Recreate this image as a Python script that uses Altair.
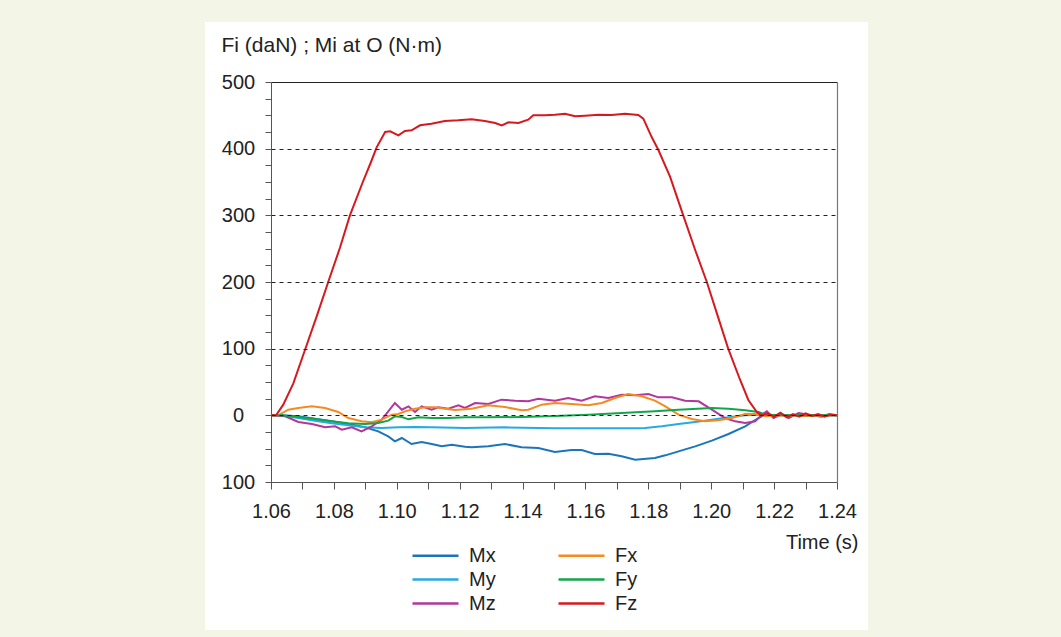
import altair as alt
import pandas as pd

# ---- data ----
fz_t = [1.060, 1.0616, 1.0639, 1.0671, 1.0708, 1.0745, 1.0782, 1.0819, 1.0851, 1.0892, 1.0918, 1.0936,
        1.0963, 1.0979, 1.1005, 1.1026, 1.1047, 1.1074, 1.111, 1.1153, 1.1195, 1.1238, 1.128, 1.1313,
        1.1334, 1.1355, 1.1387, 1.1418, 1.1434, 1.1471, 1.1503, 1.1535, 1.1567, 1.1599, 1.1641, 1.1683,
        1.1726, 1.1768, 1.1784, 1.1811, 1.1832, 1.1869, 1.1911, 1.1949, 1.1986, 1.2018, 1.2054, 1.2092,
        1.2118, 1.2145, 1.216, 1.218, 1.220, 1.222, 1.224, 1.226, 1.228, 1.230, 1.232, 1.234, 1.236,
        1.238, 1.240]
fz_v = [0, 0, 16, 48, 98, 148, 200, 251, 300, 350, 380, 402,
        425, 426, 420, 426.5, 427.5, 435, 437.5, 441.5, 442.5, 444, 441.5, 438.5,
        435, 439.5, 438.5, 443.5, 450, 450, 451, 452.5, 448.5, 449.5, 451, 450.5,
        452.5, 450.5, 445, 417, 398, 358, 300, 248, 200, 153, 100, 53,
        23, 5, 0, 3, -2, 4, -3, 2, -2, 3, -1, 2, -2,
        1, 0]

fx_t = [1.060, 1.0623, 1.0655, 1.0687, 1.073, 1.0772, 1.0814, 1.0846, 1.0888, 1.092, 1.0952, 1.0984,
        1.1005, 1.1026, 1.1058, 1.109, 1.1122, 1.1154, 1.1185, 1.1238, 1.129, 1.1344, 1.1397, 1.1418,
        1.1461, 1.1503, 1.1556, 1.1609, 1.1652, 1.1694, 1.1736, 1.1779, 1.1821, 1.1854, 1.1896, 1.1938,
        1.198, 1.2023, 1.2066, 1.2108, 1.215, 1.2172, 1.222, 1.23, 1.24]
fx_v = [0, 0, 8.5, 11, 13.5, 11, 5, -4, -9, -10.5, -6.5, 1,
        2, 6, 10, 12, 12, 10, 8, 10, 15, 12.5, 7.5, 8.5,
        16, 18.5, 17, 15, 18.5, 26, 32, 28.5, 22, 13.5, 1, -5.5,
        -9, -7.5, -4, 2, 2, -1.5, 0, -1, 0]

fy_t = [1.060, 1.0634, 1.0687, 1.074, 1.0793, 1.0846, 1.0899, 1.0941, 1.0973, 1.0994, 1.1016, 1.1037,
        1.1069, 1.1111, 1.1164, 1.1217, 1.1291, 1.1397, 1.1503, 1.1609, 1.1715, 1.1821, 1.1896, 1.2002,
        1.2055, 1.2108, 1.215, 1.2172, 1.225, 1.24]
fy_v = [0, 0, -2.5, -5.5, -9, -12, -13, -11.5, -8, -1.5, -2.5, -6,
        -3, -4, -4, -3, -3, -2.5, -1, 1, 3.5, 6, 8.5, 11,
        10, 7.5, 5, 1, 0, 0]

my_t = [1.060, 1.0634, 1.0687, 1.074, 1.0793, 1.0846, 1.0899, 1.0952, 1.1005, 1.1058, 1.1111, 1.1217,
        1.1344, 1.1503, 1.1662, 1.1768, 1.179, 1.1843, 1.1896, 1.1949, 1.2002, 1.2055, 1.2108, 1.2161,
        1.225, 1.24]
my_v = [0, 0, -4, -8, -12, -15, -18, -19, -18, -17.5, -18, -19,
        -18, -19.5, -19.5, -19.5, -19, -16.5, -13, -10, -6.5, -3, 0, 1,
        0, 0]

mx_t = [1.060, 1.0634, 1.0687, 1.074, 1.0793, 1.0846, 1.0899, 1.0941, 1.0973, 1.0994, 1.1016, 1.1047,
        1.1079, 1.1111, 1.1143, 1.1175, 1.1217, 1.1238, 1.1291, 1.1344, 1.1397, 1.145, 1.1503, 1.1556,
        1.1588, 1.163, 1.1673, 1.1715, 1.1758, 1.1821, 1.1854, 1.1896, 1.1949, 1.2002, 1.2055, 1.2108,
        1.215, 1.2166, 1.225, 1.24]
mx_v = [0, 0, -1.5, -5, -9, -13, -18, -24, -31.5, -39, -34, -43,
        -40, -43, -46.5, -44, -47, -48, -46.5, -43, -48, -49, -55, -52,
        -52, -58, -57.5, -61.5, -66.5, -64, -60, -54, -46.5, -38, -28, -16.5,
        -4, 0, 0, 0]

mz_t = [1.060, 1.0645, 1.0687, 1.073, 1.0772, 1.0804, 1.0825, 1.0857, 1.0888, 1.092, 1.0952, 1.0973,
        1.0994, 1.1016, 1.1037, 1.1058, 1.1079, 1.1111, 1.1132, 1.1164, 1.1196, 1.1217, 1.1249, 1.1291,
        1.1333, 1.1376, 1.1418, 1.145, 1.1503, 1.1545, 1.1588, 1.163, 1.1673, 1.1715, 1.1758, 1.18,
        1.1832, 1.1875, 1.1917, 1.196, 1.2002, 1.2044, 1.2076, 1.2108, 1.214, 1.2161, 1.2177, 1.2198,
        1.2225, 1.2246, 1.2278, 1.232, 1.235, 1.2375, 1.24]
mz_v = [0, -1.5, -10, -13, -18, -16.5, -21.5, -18, -24, -16.5, -6.5, 6,
        18.5, 8.5, 13.5, 5, 13.5, 8.5, 12, 10, 15, 11, 18.5, 17,
        23.5, 22, 21, 25, 22, 26, 22, 28.5, 26, 31, 30, 32,
        27, 27, 22, 21, 8.5, -4, -9, -11.5, -9, 1, 6, -4,
        2, -4, 3.5, 0, -2, 2, 0]

legend_order = ["Mx", "My", "Mz", "Fx", "Fy", "Fz"]
legend_colors = ["#1b75bb", "#27aae1", "#b3369b", "#f58a1f", "#13a54b", "#d7191f"]

x_ticks = [1.06, 1.07, 1.08, 1.09, 1.10, 1.11, 1.12, 1.13, 1.14, 1.15, 1.16, 1.17, 1.18, 1.19,
           1.20, 1.21, 1.22, 1.23, 1.24]
y_ticks = [-100, -75, -50, -25, 0, 25, 50, 75, 100, 125, 150, 175, 200, 225, 250, 275, 300,
           325, 350, 375, 400, 425, 450, 475, 500]

series = {
    "Mx": (mx_t, mx_v), "My": (my_t, my_v), "Mz": (mz_t, mz_v),
    "Fx": (fx_t, fx_v), "Fy": (fy_t, fy_v), "Fz": (fz_t, fz_v),
}
df = pd.concat([pd.DataFrame({"t": t, "v": v, "s": name}) for name, (t, v) in series.items()],
               ignore_index=True)

FONT = "Liberation Sans"
xscale = alt.Scale(domain=[1.06, 1.24], nice=False, zero=False)
yscale = alt.Scale(domain=[-100, 500], nice=False)

panel = alt.Chart(pd.DataFrame({"p": [0]})).mark_rect(color="white").encode(
    x=alt.value(-66), x2=alt.value(597), y=alt.value(-60), y2=alt.value(548)
)

lines = alt.Chart(df).mark_line(strokeWidth=2).encode(
    x=alt.X("t:Q", scale=xscale,
            axis=alt.Axis(values=x_ticks, title="Time (s)", zindex=1,
                          labelExpr="round(datum.value*100) % 2 == 0 ? format(datum.value, '.2f') : ''",
                          labelOverlap=False, labelFlush=False, labelFontSize=20, labelFont=FONT,
                          labelColor="#222", labelPadding=12, tickSize=7, tickColor="#555",
                          domainColor="#555", grid=False,
                          titleFontSize=20, titleFont=FONT, titleFontWeight="normal", titleColor="#222",
                          titleX=587, titleY=60, titleAlign="right", titleBaseline="middle")),
    y=alt.Y("v:Q", scale=yscale,
            axis=alt.Axis(values=y_ticks, title="Fi (daN) ; Mi at O (N·m)", zindex=1,
                          labelExpr="datum.value % 100 == 0 ? format(abs(datum.value), 'd') : ''",
                          labelOverlap=False, labelFlush=False, labelFontSize=20, labelFont=FONT,
                          labelColor="#222", labelAlign="center", labelBaseline="middle",
                          labelPadding=27, tickSize=6, tickColor="#555", domainColor="#555",
                          grid=True, gridColor="#222", gridDash=[4, 4], gridWidth=1,
                          gridOpacity={"condition": {"test": "datum.value % 100 == 0 && datum.value < 500 && datum.value > -100", "value": 1}, "value": 0},
                          titleFontSize=21, titleFont=FONT, titleFontWeight="normal", titleColor="#222",
                          titleAngle=0, titleX=-50, titleY=-37, titleAlign="left",
                          titleBaseline="middle")),
    color=alt.Color("s:N", scale=alt.Scale(domain=legend_order, range=legend_colors),
                    legend=alt.Legend(title=None, orient="none", legendX=153, legendY=462,
                                      columns=2, symbolType="M-2.3,0L2.3,0", symbolSize=400,
                                      symbolStrokeWidth=2.5, labelFontSize=20, labelFont=FONT,
                                      labelColor="#222", labelOffset=22, columnPadding=57,
                                      rowPadding=2, padding=0)),
)

# frame on top and right (plain axes without ticks or labels)
frame = alt.Chart(df).mark_line(opacity=0).encode(
    x=alt.X("t:Q", scale=xscale,
            axis=alt.Axis(orient="top", labels=False, ticks=False, grid=False, title="",
                          domainColor="#222", domainWidth=1.2, zindex=1)),
    y=alt.Y("v:Q", scale=yscale,
            axis=alt.Axis(orient="right", labels=False, ticks=False, grid=False, title="",
                          domainColor="#777", domainWidth=1.2, zindex=1)),
)

chart = alt.layer(panel, lines, frame).resolve_axis(x="independent", y="independent").properties(
    width=566, height=400,
    background="#f3f6e7",
    padding={"left": 271, "top": 82, "right": 224, "bottom": 155},
    autosize=alt.AutoSizeParams(type="none"),
).configure_view(stroke=None)

chart.save("out.html", embed_options={"renderer": "svg", "actions": False})
